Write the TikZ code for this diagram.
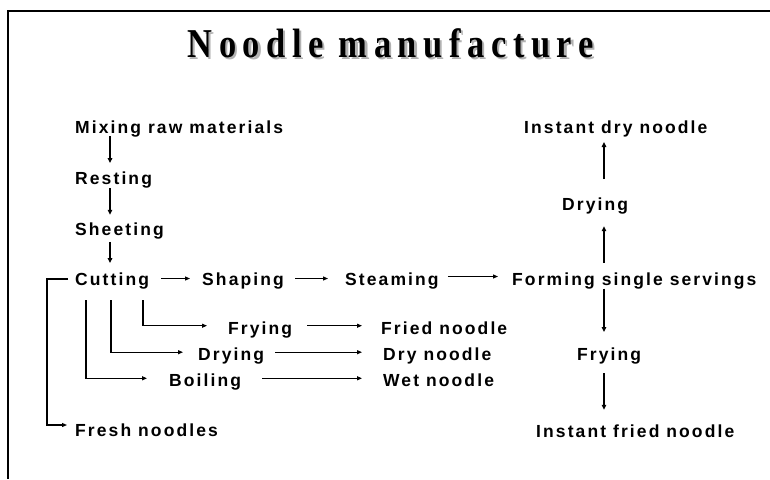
\documentclass[tikz,border=0pt]{standalone}
\usepackage{fontspec}
\usetikzlibrary{arrows.meta}
\newfontfamily\labfont{Liberation Sans}[LetterSpace=12]
\newfontfamily\titfont{Liberation Serif}[LetterSpace=16,FakeStretch=0.84]
\begin{document}
\begin{tikzpicture}[x=1pt,y=-1pt,
  lab/.style={anchor=base west, inner sep=0pt, text height=12.5pt, text depth=3.5pt,
    font=\labfont\bfseries\fontsize{17.5}{20}\selectfont},
  varr/.style={line width=1.8pt, -{Triangle[length=5pt,width=4.5pt]}},
  harr/.style={line width=1.1pt, -{Triangle[length=5pt,width=4pt]}},
  branch/.style={line width=1.1pt, -{Triangle[length=5pt,width=4pt]}},
  frame/.style={line width=2pt},
  titl/.style={anchor=base, inner sep=0pt, font=\titfont\bfseries\fontsize{41}{44}\selectfont}]
\useasboundingbox (0,0) rectangle (770,479);
\draw[frame] (770,11) -- (8,11) -- (8,479);
% title with shadow
\node[titl] (title) at (390.5,57) {\rlap{\kern2.2pt\raisebox{-2.2pt}{\color{black!30}Noodle manufacture}}Noodle manufacture};
% left column
\node[lab] (mix) at (75,133.5) {Mixing raw materials};
\node[lab] (rest) at (75,184.5) {Resting};
\node[lab] (sheet) at (75,235) {Sheeting};
\node[lab] (cut) at (75,285) {Cutting};
\node[lab] (shap) at (202,285) {Shaping};
\node[lab] (steam) at (345,285) {Steaming};
\node[lab] (form) at (512,285) {Forming single servings};
\node[lab] (fry1) at (228,334.5) {Frying};
\node[lab] (fried) at (381,334.5) {Fried noodle};
\node[lab] (dry1) at (198,360.7) {Drying};
\node[lab] (drynood) at (383,360.7) {Dry noodle};
\node[lab] (boil) at (169,386) {Boiling};
\node[lab] (wet) at (383,386) {Wet noodle};
\node[lab] (fresh) at (75,436) {Fresh noodles};
% right column
\node[lab] (instdry) at (524,133.3) {Instant dry noodle};
\node[lab] (dry2) at (562,210.7) {Drying};
\node[lab] (fry2) at (577,360.7) {Frying};
\node[lab] (instfried) at (536,437) {Instant fried noodle};
% vertical arrows, left
\draw[varr] ([xshift=35,yshift=1]mix.south west) -- ([xshift=35,yshift=8.7]rest.north west);
\draw[varr] ([xshift=35]rest.south west) -- ([xshift=35,yshift=7.5]sheet.north west);
\draw[varr] ([xshift=35,yshift=-3.2]sheet.south west) -- ([xshift=35,yshift=9.2]cut.north west);
% horizontal chain
\draw[harr] ([xshift=12,yshift=2]cut.east) -- ([xshift=-12,yshift=2]shap.west);
\draw[harr] ([xshift=11,yshift=2]shap.east) -- ([xshift=-17,yshift=2]steam.west);
\draw[harr] ([xshift=9,yshift=4]steam.east) -- ([xshift=-14,yshift=4]form.west);
% right column arrows
\draw[varr] ([xshift=92,yshift=9.5]form.north west) -- ([xshift=42,yshift=-11.8]dry2.south west);
\draw[varr] ([xshift=42,yshift=19]dry2.north west) -- ([xshift=80,yshift=-5]instdry.south west);
\draw[varr] ([xshift=92]form.south west) -- ([xshift=27,yshift=16]fry2.north west);
\draw[varr] ([xshift=27,yshift=-9]fry2.south west) -- ([xshift=68,yshift=14.5]instfried.north west);
% branches from cutting
\draw[branch] ([xshift=68,yshift=-11.5]cut.south west) |- ([xshift=-21,yshift=4.3]fry1.west);
\draw[branch] ([xshift=36,yshift=-11.5]cut.south west) |- ([xshift=-15,yshift=4]dry1.west);
\draw[branch] ([xshift=11,yshift=-11.5]cut.south west) |- ([xshift=-22,yshift=3.2]boil.west);
\draw[harr] ([xshift=15,yshift=4.3]fry1.east) -- ([xshift=-19,yshift=4.3]fried.west);
\draw[harr] ([xshift=11,yshift=4]dry1.east) -- ([xshift=-21,yshift=4]drynood.west);
\draw[harr] ([xshift=21,yshift=3.2]boil.east) -- ([xshift=-21,yshift=3.2]wet.west);
% fresh noodles
\draw[branch] ([xshift=-7,yshift=1.5]cut.west) -- ++(-21,0) |- ([xshift=-8,yshift=6.5]fresh.west);
\end{tikzpicture}
\end{document}
